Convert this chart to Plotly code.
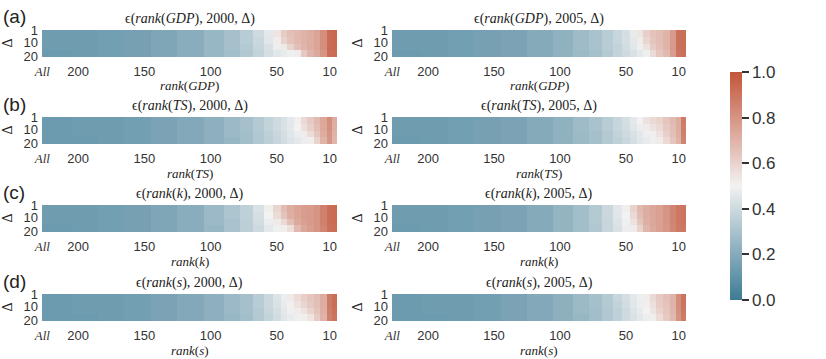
import plotly.graph_objects as go

# rank bins (descending, edges); first bin holds the "All" column
RANK_EDGES = [227.3, 205, 185, 165, 145, 125, 105, 90, 78, 68, 60, 53,
              47, 42, 37, 32, 27, 22, 17, 12, 8, 4.5]
# delta bins (edges), rows read as groups of five deltas
DELTA_EDGES = [0.5, 5.5, 10.5, 15.5, 20.5]

X_TICKS = [227, 200, 150, 100, 50, 10]
X_TICKTEXT = ["<i><span style='font-family:Liberation Serif'>All</span></i>",
              "200", "150", "100", "50", "10"]
Y_TICKS = [1, 10, 20]

# one row per delta group, one value per rank bin
GDP_2000 = [
    [0.14, 0.14, 0.15, 0.16, 0.18, 0.21, 0.25, 0.29, 0.34, 0.40, 0.46, 0.54, 0.62, 0.66, 0.68, 0.70, 0.72, 0.75, 0.82, 0.93, 0.94],
    [0.14, 0.14, 0.15, 0.16, 0.18, 0.21, 0.25, 0.29, 0.34, 0.39, 0.45, 0.52, 0.60, 0.65, 0.68, 0.70, 0.72, 0.75, 0.82, 0.93, 0.94],
    [0.14, 0.14, 0.15, 0.16, 0.18, 0.21, 0.25, 0.29, 0.33, 0.38, 0.43, 0.48, 0.53, 0.60, 0.66, 0.69, 0.72, 0.75, 0.82, 0.93, 0.94],
    [0.13, 0.14, 0.15, 0.16, 0.18, 0.21, 0.25, 0.28, 0.32, 0.37, 0.42, 0.45, 0.47, 0.49, 0.52, 0.63, 0.69, 0.73, 0.80, 0.92, 0.93],
]
GDP_2005 = [
    [0.14, 0.14, 0.15, 0.16, 0.17, 0.20, 0.23, 0.27, 0.30, 0.34, 0.38, 0.42, 0.47, 0.54, 0.61, 0.65, 0.67, 0.70, 0.78, 0.91, 0.92],
    [0.14, 0.14, 0.15, 0.16, 0.17, 0.20, 0.23, 0.27, 0.30, 0.34, 0.38, 0.42, 0.46, 0.52, 0.59, 0.64, 0.67, 0.70, 0.78, 0.91, 0.92],
    [0.14, 0.14, 0.15, 0.16, 0.17, 0.20, 0.23, 0.27, 0.30, 0.34, 0.37, 0.41, 0.45, 0.49, 0.55, 0.62, 0.66, 0.70, 0.78, 0.91, 0.92],
    [0.13, 0.14, 0.15, 0.16, 0.17, 0.20, 0.23, 0.26, 0.29, 0.33, 0.37, 0.40, 0.43, 0.46, 0.49, 0.58, 0.64, 0.68, 0.77, 0.90, 0.91],
]
TS_2000 = [
    [0.13, 0.14, 0.14, 0.15, 0.17, 0.19, 0.22, 0.26, 0.29, 0.33, 0.37, 0.40, 0.43, 0.46, 0.51, 0.58, 0.63, 0.68, 0.74, 0.82, 0.72],
    [0.13, 0.14, 0.14, 0.15, 0.17, 0.19, 0.22, 0.26, 0.29, 0.33, 0.37, 0.40, 0.43, 0.46, 0.50, 0.56, 0.61, 0.67, 0.73, 0.81, 0.71],
    [0.13, 0.14, 0.14, 0.15, 0.17, 0.19, 0.22, 0.26, 0.28, 0.32, 0.36, 0.39, 0.42, 0.45, 0.48, 0.52, 0.57, 0.64, 0.72, 0.80, 0.70],
    [0.13, 0.13, 0.14, 0.15, 0.17, 0.19, 0.22, 0.25, 0.28, 0.32, 0.35, 0.38, 0.41, 0.44, 0.46, 0.48, 0.51, 0.60, 0.70, 0.79, 0.69],
]
TS_2005 = [
    [0.14, 0.14, 0.15, 0.16, 0.17, 0.20, 0.23, 0.27, 0.30, 0.34, 0.38, 0.42, 0.46, 0.50, 0.55, 0.58, 0.60, 0.64, 0.68, 0.72, 0.88],
    [0.14, 0.14, 0.15, 0.16, 0.17, 0.20, 0.23, 0.27, 0.30, 0.34, 0.38, 0.41, 0.45, 0.48, 0.52, 0.55, 0.58, 0.63, 0.67, 0.72, 0.87],
    [0.14, 0.14, 0.15, 0.16, 0.17, 0.20, 0.23, 0.26, 0.29, 0.33, 0.37, 0.40, 0.43, 0.46, 0.49, 0.51, 0.55, 0.61, 0.66, 0.71, 0.86],
    [0.13, 0.14, 0.15, 0.16, 0.17, 0.20, 0.23, 0.26, 0.29, 0.33, 0.36, 0.39, 0.42, 0.45, 0.47, 0.49, 0.52, 0.58, 0.64, 0.70, 0.85],
]
K_2000 = [
    [0.14, 0.14, 0.15, 0.16, 0.18, 0.21, 0.26, 0.31, 0.36, 0.43, 0.51, 0.59, 0.67, 0.72, 0.75, 0.77, 0.78, 0.80, 0.86, 0.92, 0.93],
    [0.14, 0.14, 0.15, 0.16, 0.18, 0.21, 0.26, 0.31, 0.36, 0.42, 0.50, 0.57, 0.65, 0.71, 0.75, 0.77, 0.78, 0.80, 0.86, 0.92, 0.93],
    [0.14, 0.14, 0.15, 0.16, 0.18, 0.21, 0.26, 0.30, 0.35, 0.41, 0.48, 0.53, 0.58, 0.66, 0.73, 0.76, 0.78, 0.80, 0.86, 0.92, 0.93],
    [0.13, 0.14, 0.15, 0.16, 0.18, 0.21, 0.25, 0.30, 0.35, 0.40, 0.46, 0.49, 0.51, 0.56, 0.68, 0.74, 0.77, 0.80, 0.85, 0.91, 0.92],
]
K_2005 = [
    [0.14, 0.14, 0.15, 0.16, 0.17, 0.20, 0.24, 0.28, 0.33, 0.39, 0.45, 0.51, 0.60, 0.68, 0.72, 0.74, 0.76, 0.80, 0.85, 0.89, 0.90],
    [0.14, 0.14, 0.15, 0.16, 0.17, 0.20, 0.24, 0.28, 0.33, 0.39, 0.45, 0.50, 0.58, 0.67, 0.72, 0.74, 0.76, 0.80, 0.85, 0.89, 0.90],
    [0.14, 0.14, 0.15, 0.16, 0.17, 0.20, 0.24, 0.28, 0.33, 0.38, 0.44, 0.49, 0.55, 0.64, 0.71, 0.74, 0.76, 0.80, 0.85, 0.89, 0.90],
    [0.13, 0.14, 0.15, 0.16, 0.17, 0.20, 0.24, 0.28, 0.32, 0.38, 0.43, 0.48, 0.52, 0.60, 0.69, 0.73, 0.76, 0.79, 0.84, 0.88, 0.89],
]
S_2000 = [
    [0.13, 0.14, 0.14, 0.15, 0.17, 0.19, 0.22, 0.26, 0.29, 0.34, 0.39, 0.44, 0.48, 0.53, 0.57, 0.61, 0.64, 0.67, 0.72, 0.88, 0.92],
    [0.13, 0.14, 0.14, 0.15, 0.17, 0.19, 0.22, 0.26, 0.29, 0.34, 0.39, 0.43, 0.47, 0.51, 0.55, 0.59, 0.63, 0.66, 0.72, 0.88, 0.92],
    [0.13, 0.14, 0.14, 0.15, 0.17, 0.19, 0.22, 0.26, 0.29, 0.33, 0.38, 0.42, 0.46, 0.49, 0.52, 0.55, 0.60, 0.65, 0.71, 0.87, 0.91],
    [0.13, 0.13, 0.14, 0.15, 0.17, 0.19, 0.22, 0.25, 0.28, 0.33, 0.37, 0.41, 0.45, 0.47, 0.49, 0.51, 0.54, 0.62, 0.70, 0.86, 0.90],
]
S_2005 = [
    [0.13, 0.14, 0.14, 0.15, 0.17, 0.19, 0.22, 0.26, 0.29, 0.33, 0.38, 0.42, 0.46, 0.49, 0.52, 0.58, 0.63, 0.66, 0.70, 0.82, 0.90],
    [0.13, 0.14, 0.14, 0.15, 0.17, 0.19, 0.22, 0.26, 0.29, 0.33, 0.37, 0.41, 0.45, 0.48, 0.51, 0.56, 0.62, 0.65, 0.70, 0.82, 0.90],
    [0.13, 0.14, 0.14, 0.15, 0.17, 0.19, 0.22, 0.26, 0.28, 0.32, 0.36, 0.40, 0.44, 0.47, 0.50, 0.54, 0.60, 0.64, 0.69, 0.81, 0.89],
    [0.13, 0.13, 0.14, 0.15, 0.17, 0.19, 0.22, 0.25, 0.28, 0.32, 0.36, 0.40, 0.43, 0.46, 0.48, 0.51, 0.57, 0.63, 0.68, 0.80, 0.88],
]

PANELS = [GDP_2000, GDP_2005, TS_2000, TS_2005, K_2000, K_2005, S_2000, S_2005]
VARIABLES = ["GDP", "GDP", "TS", "TS", "k", "k", "s", "s"]
YEARS = ["2000", "2005"] * 4
ROW_LABELS = ["(a)", "(b)", "(c)", "(d)"]

W, H = 826, 359
SERIF = "Liberation Serif"
SANS = "Liberation Sans"
INK = "#333333"

# pixel boxes of the heatmaps
COL_X = [(42, 337), (392, 686)]
ROW_Y = [(30, 57), (117, 144), (205, 232), (294, 321)]

COLORSCALE = [[0.0, "#3d7b96"], [0.5, "#f2f2f2"], [1.0, "#c3553a"]]


def px_x(x):
    return x / W


def px_y(y):
    return 1 - y / H


def label(text, x, y, size, family=SERIF, **kw):
    return dict(text=text, x=px_x(x), y=px_y(y), xref="paper", yref="paper",
                xanchor=kw.pop("xanchor", "center"), yanchor="middle",
                showarrow=False, font=dict(family=family, size=size,
                                           color="#222"), **kw)


fig = go.Figure()
annotations = []

for i, z in enumerate(PANELS):
    row, col = divmod(i, 2)
    n = i + 1
    x0, x1 = COL_X[col]
    y0, y1 = ROW_Y[row]
    xa = "x" if n == 1 else f"x{n}"
    ya = "y" if n == 1 else f"y{n}"

    fig.add_trace(go.Heatmap(
        z=z, x=RANK_EDGES, y=DELTA_EDGES, xaxis=xa, yaxis=ya,
        zmin=0, zmax=1, colorscale=COLORSCALE, showscale=(i == 0),
        hoverinfo="skip",
        colorbar=dict(x=px_x(730), xanchor="left", y=px_y(186),
                      yanchor="middle", len=228 / H, thickness=12,
                      outlinewidth=0, tickvals=[0, 0.2, 0.4, 0.6, 0.8, 1.0],
                      tickformat=".1f", ticks="outside", ticklen=7,
                      tickwidth=2, tickcolor=INK, xpad=0, ypad=0,
                      tickfont=dict(family=SANS, size=17, color=INK)),
    ))

    fig.layout[f"xaxis{n}"] = dict(
        domain=[px_x(x0), px_x(x1)], anchor=ya, range=[227.3, 4.5],
        tickvals=X_TICKS, ticktext=X_TICKTEXT, ticks="", showgrid=False,
        zeroline=False, showline=False, ticklabelstandoff=5,
        automargin=False,
        tickfont=dict(family=SANS, size=13, color=INK))
    fig.layout[f"yaxis{n}"] = dict(
        domain=[px_y(y1), px_y(y0)], anchor=xa, range=[20.5, 0.5],
        tickvals=Y_TICKS, ticks="", showgrid=False, zeroline=False,
        showline=False, ticklabelstandoff=3, automargin=False,
        tickfont=dict(family=SANS, size=13, color=INK))

    cx = (x0 + x1) / 2
    var = VARIABLES[i]
    annotations.append(label(
        f"ϵ(<i>rank</i>(<i>{var}</i>), {YEARS[i]}, Δ)", cx, y0 - 11, 14))
    annotations.append(label(f"<i>rank</i>(<i>{var}</i>)", cx, y1 + 29, 13))
    annotations.append(label("Δ", x0 - 35, (y0 + y1) / 2, 14, textangle=-90))

for row, text in enumerate(ROW_LABELS):
    annotations.append(label(text, 1, ROW_Y[row][0] - 13, 19, family=SANS,
                             xanchor="left"))

fig.update_layout(
    width=W, height=H,
    margin=dict(l=0, r=0, t=0, b=0, pad=0, autoexpand=False),
    paper_bgcolor="white", plot_bgcolor="white",
    annotations=annotations, showlegend=False)

# drop the browser's default body margin so the figure fills the window
fig.write_html("out.html", config={"displayModeBar": False},
               post_script="document.body.style.margin = '0';")
